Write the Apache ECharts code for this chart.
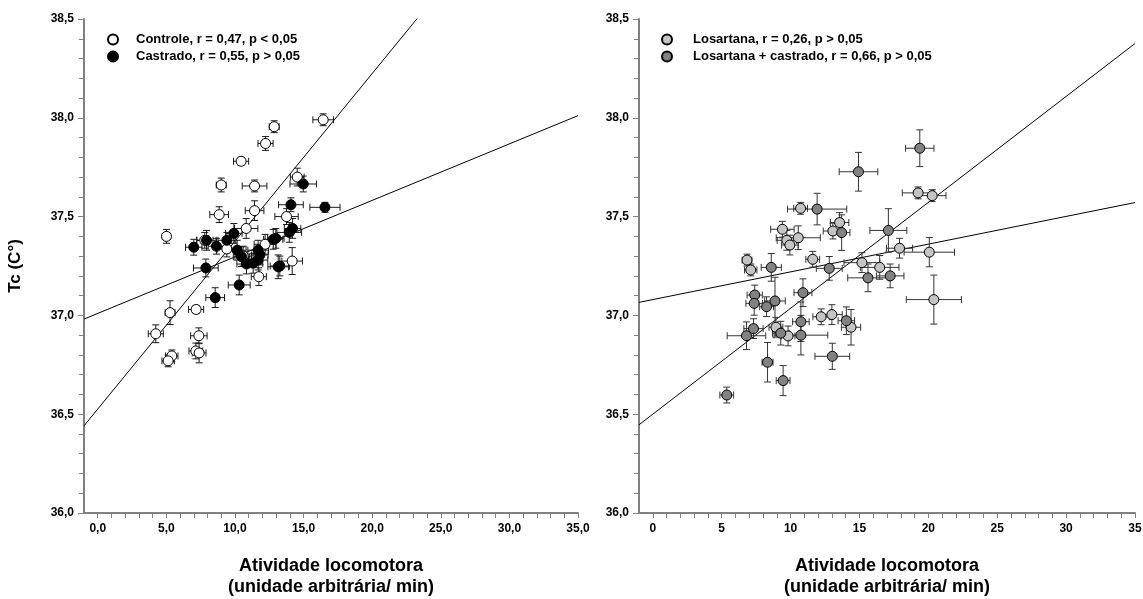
<!DOCTYPE html>
<html>
<head>
<meta charset="utf-8">
<script src="https://cdn.jsdelivr.net/npm/echarts@6/dist/echarts.min.js"></script>
<style>
  html, body { margin: 0; padding: 0; background: #fff; }
  #main { width: 1143px; height: 599px; }
</style>
</head>
<body>
<div id="main"></div>
<script>
// each point: [atividade, Tc, erro x, erro y]
var controle = [
  [16.43, 37.99, 0.75, 0.03], [12.86, 37.955, 0.36, 0.03], [12.23, 37.87, 0.55, 0.035],
  [10.45, 37.78, 0.55, 0.02], [9.0, 37.66, 0.36, 0.035], [11.43, 37.655, 0.9, 0.03],
  [14.54, 37.70, 0.5, 0.045], [11.43, 37.53, 0.68, 0.05], [8.85, 37.51, 0.68, 0.04],
  [13.76, 37.50, 0.85, 0.04], [10.82, 37.44, 0.85, 0.05], [5.01, 37.40, 0.3, 0.035],
  [7.8, 37.38, 0.6, 0.04], [9.41, 37.336, 0.7, 0.04], [14.17, 37.275, 0.75, 0.068],
  [11.74, 37.196, 0.55, 0.045], [7.17, 37.03, 0.55, 0.02], [5.27, 37.014, 0.36, 0.06],
  [4.23, 36.907, 0.55, 0.045], [7.37, 36.897, 0.6, 0.04], [7.15, 36.82, 0.5, 0.04],
  [7.39, 36.81, 0.5, 0.05], [5.4, 36.795, 0.45, 0.03], [5.13, 36.77, 0.45, 0.03],
  [10.6, 37.30, 0.6, 0.05], [12.2, 37.36, 0.8, 0.05]
];
var castrado = [
  [14.98, 37.665, 0.97, 0.04], [16.56, 37.547, 1.1, 0.025], [14.08, 37.56, 0.9, 0.035],
  [13.96, 37.42, 0.9, 0.05], [14.2, 37.44, 0.6, 0.05], [12.79, 37.385, 0.7, 0.05],
  [12.98, 37.39, 0.6, 0.05], [9.92, 37.415, 0.6, 0.05], [9.41, 37.38, 0.65, 0.04],
  [7.93, 37.38, 0.7, 0.05], [7.0, 37.345, 0.6, 0.04], [8.65, 37.35, 0.6, 0.04],
  [10.16, 37.33, 0.65, 0.05], [10.48, 37.297, 0.6, 0.05], [10.84, 37.26, 0.7, 0.05],
  [11.33, 37.264, 0.7, 0.05], [11.69, 37.33, 0.75, 0.05], [11.82, 37.306, 0.6, 0.05],
  [11.69, 37.28, 0.7, 0.05], [13.15, 37.246, 0.75, 0.06], [13.27, 37.25, 0.7, 0.05],
  [7.88, 37.24, 0.9, 0.045], [10.31, 37.154, 0.8, 0.05], [8.56, 37.09, 0.68, 0.05]
];
var losartana = [
  [19.26, 37.62, 1.15, 0.03], [20.28, 37.606, 1.0, 0.03], [10.73, 37.542, 0.5, 0.03],
  [13.56, 37.47, 0.67, 0.05], [13.07, 37.427, 0.7, 0.04], [9.41, 37.436, 0.85, 0.04],
  [9.73, 37.38, 0.7, 0.05], [10.56, 37.393, 1.6, 0.06], [9.95, 37.356, 0.6, 0.05],
  [17.91, 37.34, 0.95, 0.05], [20.07, 37.32, 1.83, 0.074], [11.61, 37.284, 0.5, 0.04],
  [6.84, 37.28, 0.35, 0.03], [7.11, 37.23, 0.45, 0.03], [15.18, 37.267, 1.3, 0.05],
  [16.47, 37.243, 1.4, 0.06], [20.4, 37.08, 2.0, 0.124], [12.22, 36.993, 0.6, 0.04],
  [13.0, 37.004, 0.75, 0.05], [14.39, 36.94, 0.7, 0.09], [8.94, 36.94, 0.5, 0.05],
  [9.82, 36.896, 0.5, 0.05]
];
var losCastrado = [
  [19.38, 37.846, 1.03, 0.093], [14.93, 37.727, 1.4, 0.098], [11.93, 37.538, 2.15, 0.08],
  [13.71, 37.419, 0.6, 0.09], [17.1, 37.43, 1.34, 0.11], [8.6, 37.243, 0.73, 0.07],
  [12.81, 37.238, 0.94, 0.06], [15.62, 37.19, 1.47, 0.07], [17.23, 37.2, 1.0, 0.06],
  [10.9, 37.115, 0.65, 0.07], [7.4, 37.103, 0.55, 0.05], [7.36, 37.061, 0.6, 0.06],
  [8.26, 37.044, 0.5, 0.05], [8.87, 37.073, 0.75, 0.12], [14.05, 36.973, 0.6, 0.07],
  [10.75, 36.968, 0.6, 0.1], [10.75, 36.9, 1.95, 0.1], [7.31, 36.933, 0.7, 0.05],
  [6.8, 36.897, 1.4, 0.07], [9.29, 36.91, 0.6, 0.06], [13.03, 36.793, 1.26, 0.066],
  [8.33, 36.763, 0.4, 0.1], [9.46, 36.67, 0.5, 0.076], [5.37, 36.597, 0.5, 0.04]
];

// regressions: [intercept, slope]
var regControle = [36.526, 0.0849];
var regCastrado = [37.01, 0.0286];
var regLosartana = [37.08, 0.01403];
var regLosCastrado = [36.50, 0.0536];

var xRange = [-1, 35];
var yRange = [36, 38.5];
var xLabelTicks = [0, 5, 10, 15, 20, 25, 30, 35];
var xMinorTicks = [];
for (var i = 0; i <= 35; i++) xMinorTicks.push(i);

var names = [
  'Controle, r = 0,47, p < 0,05',
  'Castrado, r = 0,55, p > 0,05',
  'Losartana, r = 0,26, p > 0,05',
  'Losartana + castrado, r = 0,66, p > 0,05'
];

var font = 'Liberation Sans, Arial, sans-serif';
var axisGray = '#808080';

function errorBars(data, gi, color) {
  return {
    type: 'custom',
    xAxisIndex: gi,
    yAxisIndex: gi,
    silent: true,
    z: 2,
    encode: { x: 0, y: 1 },
    renderItem: function (params, api) {
      var x = api.value(0), y = api.value(1), sx = api.value(2), sy = api.value(3);
      var c = api.coord([x, y]);
      var l = api.coord([x - sx, y])[0], r = api.coord([x + sx, y])[0];
      var t = api.coord([x, y + sy])[1], b = api.coord([x, y - sy])[1];
      var cap = 3.5;
      var st = { stroke: color, lineWidth: 1 };
      return {
        type: 'group',
        children: [
          { type: 'line', shape: { x1: l, y1: c[1], x2: r, y2: c[1] }, style: st },
          { type: 'line', shape: { x1: l, y1: c[1] - cap, x2: l, y2: c[1] + cap }, style: st },
          { type: 'line', shape: { x1: r, y1: c[1] - cap, x2: r, y2: c[1] + cap }, style: st },
          { type: 'line', shape: { x1: c[0], y1: t, x2: c[0], y2: b }, style: st },
          { type: 'line', shape: { x1: c[0] - cap, y1: t, x2: c[0] + cap, y2: t }, style: st },
          { type: 'line', shape: { x1: c[0] - cap, y1: b, x2: c[0] + cap, y2: b }, style: st }
        ]
      };
    },
    data: data
  };
}

function scatter(name, data, gi, fill) {
  return {
    name: name,
    type: 'scatter',
    xAxisIndex: gi,
    yAxisIndex: gi,
    z: 3,
    symbol: 'circle',
    symbolSize: 10,
    itemStyle: { color: fill, borderColor: '#000', borderWidth: 1, opacity: 1 },
    data: data.map(function (d) { return [d[0], d[1]]; })
  };
}

function regLine(reg, gi) {
  return {
    type: 'line',
    xAxisIndex: gi,
    yAxisIndex: gi,
    z: 1,
    silent: true,
    symbol: 'none',
    clip: true,
    lineStyle: { color: '#000', width: 1 },
    data: xRange.map(function (x) { return [x, reg[0] + reg[1] * x]; })
  };
}

function xAxis(gi, fmt) {
  return {
    gridIndex: gi,
    type: 'value',
    min: xRange[0],
    max: xRange[1],
    name: 'Atividade locomotora\n(unidade arbitrária/ min)',
    nameLocation: 'middle',
    nameGap: 43,
    nameTextStyle: { fontFamily: font, fontWeight: 'bold', fontSize: 18, color: '#000', lineHeight: 21 },
    axisLine: { onZero: false, lineStyle: { color: axisGray, width: 2 } },
    axisTick: { customValues: xMinorTicks, length: 5, lineStyle: { color: axisGray, width: 1 } },
    axisLabel: {
      customValues: xLabelTicks,
      formatter: fmt,
      margin: 10,
      fontFamily: font, fontWeight: 'bold', fontSize: 12, color: '#000'
    },
    splitLine: { show: false }
  };
}

function yAxis(gi, withName) {
  return {
    gridIndex: gi,
    type: 'value',
    min: yRange[0],
    max: yRange[1],
    interval: 0.5,
    name: withName ? 'Tc (C°)' : '',
    nameLocation: 'middle',
    nameGap: 60,
    nameTextStyle: { fontFamily: font, fontWeight: 'bold', fontSize: 17, color: '#000' },
    axisLine: { onZero: false, lineStyle: { color: axisGray, width: 2 } },
    axisTick: { length: 6, lineStyle: { color: axisGray, width: 1 } },
    minorTick: { show: true, splitNumber: 5, length: 5, lineStyle: { color: axisGray, width: 1 } },
    axisLabel: {
      formatter: function (v) { return v.toFixed(1).replace('.', ','); },
      margin: 10,
      fontFamily: font, fontWeight: 'bold', fontSize: 12, color: '#000'
    },
    splitLine: { show: false }
  };
}

function legend(data, left, textPad) {
  return {
    data: data,
    orient: 'vertical',
    left: left,
    top: 33,
    padding: 0,
    itemWidth: 10,
    itemHeight: 10,
    itemGap: 4,
    selectedMode: false,
    textStyle: { fontFamily: font, fontWeight: 'bold', fontSize: 13, color: '#000', padding: [0, 0, 0, textPad] }
  };
}

var chart = echarts.init(document.getElementById('main'), null, { renderer: 'canvas' });

chart.setOption({
  animation: false,
  backgroundColor: '#fff',
  grid: [
    { left: 84, right: 565, top: 19, bottom: 86, outerBoundsMode: 'none' },
    { left: 639, right: 8, top: 19, bottom: 86, outerBoundsMode: 'none' }
  ],
  legend: [
    legend([names[0], names[1]], 107, 13),
    legend([names[2], names[3]], 661, 16)
  ],
  xAxis: [
    xAxis(0, function (v) { return v.toFixed(1).replace('.', ','); }),
    xAxis(1, function (v) { return String(v); })
  ],
  yAxis: [yAxis(0, true), yAxis(1, false)],
  series: [
    regLine(regControle, 0),
    regLine(regCastrado, 0),
    errorBars(controle, 0, '#1a1a1a'),
    errorBars(castrado, 0, '#1a1a1a'),
    scatter(names[0], controle, 0, '#ffffff'),
    scatter(names[1], castrado, 0, '#000000'),
    regLine(regLosartana, 1),
    regLine(regLosCastrado, 1),
    errorBars(losartana, 1, '#333333'),
    errorBars(losCastrado, 1, '#333333'),
    scatter(names[2], losartana, 1, '#c4c4c4'),
    scatter(names[3], losCastrado, 1, '#828282')
  ]
});
</script>
</body>
</html>
